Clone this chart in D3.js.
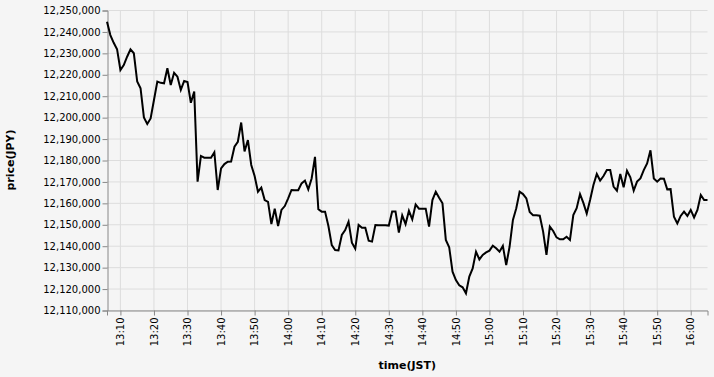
<!DOCTYPE html>
<html>
<head>
<meta charset="utf-8">
<script src="https://cdn.jsdelivr.net/npm/d3@7"></script>
<style>
  body { margin: 0; background: #f5f5f5; }
  text { font-family: "DejaVu Sans", sans-serif; }
</style>
</head>
<body>
<div id="container"></div>
<script>
/* CONSTANTS AND GLOBALS */
const width = 714,
  height = 377,
  margin = { top: 10, bottom: 67, left: 107, right: 6.5 }

// first sample at 13:06 JST, one price per minute
const startTime = "13:06"
const prices = [
  12244500, 12238300, 12234700, 12231700, 12222000, 12224300, 12228200, 12231600, 12229800, 12216600,
  12213500, 12199900, 12196800, 12199400, 12208000, 12216600, 12216000, 12215800, 12222800, 12215000,
  12220700, 12218900, 12212700, 12216900, 12216400, 12206700, 12211900, 12169900, 12181900, 12181100,
  12181000, 12181000, 12183600, 12166000, 12176100, 12178100, 12179200, 12179300, 12186200, 12188500,
  12197500, 12184000, 12189300, 12177700, 12172500, 12165200, 12167100, 12161300, 12160500, 12150100,
  12157300, 12149200, 12156700, 12158500, 12162100, 12166000, 12165900, 12165900, 12169100, 12170400,
  12166300, 12171400, 12181500, 12157000, 12155900, 12155900, 12149200, 12140300, 12138000, 12137800,
  12145000, 12147300, 12151200, 12141400, 12138600, 12149700, 12148400, 12148400, 12142300, 12141900,
  12149700, 12149600, 12149500, 12149600, 12149400, 12156000, 12156000, 12146100, 12154200, 12150100,
  12156300, 12152300, 12159200, 12157300, 12157300, 12157300, 12148900, 12161300, 12165200, 12162400,
  12159800, 12142700, 12139300, 12127900, 12124000, 12121500, 12120600, 12117800, 12125600, 12129400,
  12137200, 12133600, 12135700, 12136900, 12137700, 12140000, 12138800, 12137200, 12139900, 12131000,
  12139500, 12152000, 12157500, 12165200, 12164100, 12162100, 12155700, 12154200, 12154200, 12154000,
  12146600, 12135700, 12148900, 12146900, 12143900, 12143000, 12143000, 12144200, 12142700, 12154300,
  12157500, 12164100, 12160000, 12155000, 12161300, 12168300, 12173500, 12170400, 12172500, 12175300,
  12175300, 12167600, 12165700, 12173500, 12167300, 12175000, 12171900, 12165700, 12169900, 12171400,
  12175300, 12178400, 12184500, 12171400, 12169900, 12171400, 12171300, 12166300, 12166400, 12153500,
  12150400, 12153900, 12155900, 12153900, 12156700, 12153200, 12156700, 12163700, 12161300, 12161300
]
const yTicks = [12110000, 12120000, 12130000, 12140000, 12150000, 12160000, 12170000,
  12180000, 12190000, 12200000, 12210000, 12220000, 12230000, 12240000, 12250000]

const parseTime = d3.timeParse("%H:%M")
const t0 = parseTime(startTime)
const data = prices.map((p, i) => ({ time: d3.timeMinute.offset(t0, i), price: p }))

// + SCALES
const xScale = d3.scaleTime()
  .domain(d3.extent(data, d => d.time))
  .range([margin.left, width - margin.right])

const yScale = d3.scaleLinear()
  .domain([yTicks[0], yTicks[yTicks.length - 1]])
  .range([height - margin.bottom, margin.top])

// CREATE SVG ELEMENT
const svg = d3.select("#container")
  .append("svg")
  .attr("width", width)
  .attr("height", height)

svg.append("rect")
  .attr("width", width)
  .attr("height", height)
  .attr("fill", "#f5f5f5")

const xTicks = d3.timeMinute.every(10).range(xScale.domain()[0], d3.timeMinute.offset(xScale.domain()[1], 1))

// GRID
svg.append("g")
  .selectAll("line")
  .data(yTicks)
  .join("line")
  .attr("x1", margin.left)
  .attr("x2", width - margin.right)
  .attr("y1", d => yScale(d) + 0.5)
  .attr("y2", d => yScale(d) + 0.5)
  .attr("stroke", "#ddd")

svg.append("g")
  .selectAll("line")
  .data(xTicks)
  .join("line")
  .attr("x1", d => xScale(d))
  .attr("x2", d => xScale(d))
  .attr("y1", margin.top)
  .attr("y2", height - margin.bottom)
  .attr("stroke", "#ddd")

// BUILD AND CALL AXES
const xAxis = d3.axisBottom(xScale)
  .tickValues(xTicks)
  .tickFormat(d3.timeFormat("%H:%M"))
  .tickSize(5)
  .tickPadding(2)

const gx = svg.append("g")
  .attr("transform", `translate(0,${height - margin.bottom + 0.5})`)
  .call(xAxis)
gx.selectAll("text")
  .attr("transform", "rotate(-90)")
  .attr("text-anchor", "end")
  .attr("x", -7)
  .attr("y", 0)
  .attr("dy", "0.32em")

const yAxis = d3.axisLeft(yScale)
  .tickValues(yTicks)
  .tickFormat(d3.format(","))
  .tickSize(5)
  .tickPadding(2)

const gy = svg.append("g")
  .attr("transform", `translate(${margin.left + 0.5},0.5)`)
  .call(yAxis)

svg.selectAll(".domain").attr("stroke", "#888")
svg.selectAll(".tick line").attr("stroke", "#888")
svg.selectAll(".tick text")
  .attr("fill", "#000")
  .style("font-size", "10px")
  .style("font-family", "DejaVu Sans, sans-serif")

// AXIS TITLES
svg.append("text")
  .attr("x", (margin.left + width - margin.right) / 2)
  .attr("y", 369)
  .attr("text-anchor", "middle")
  .style("font-size", "11px")
  .style("font-weight", "bold")
  .text("time(JST)")

svg.append("text")
  .attr("transform", `translate(14,${(margin.top + height - margin.bottom) / 2}) rotate(-90)`)
  .attr("text-anchor", "middle")
  .style("font-size", "11px")
  .style("font-weight", "bold")
  .text("price(JPY)")

// LINE GENERATOR FUNCTION
const lineGen = d3.line()
  .x(d => xScale(d.time))
  .y(d => yScale(d.price))

svg.append("path")
  .datum(data)
  .attr("fill", "none")
  .attr("stroke", "#000")
  .attr("stroke-width", 2)
  .attr("d", lineGen)
</script>
</body>
</html>
